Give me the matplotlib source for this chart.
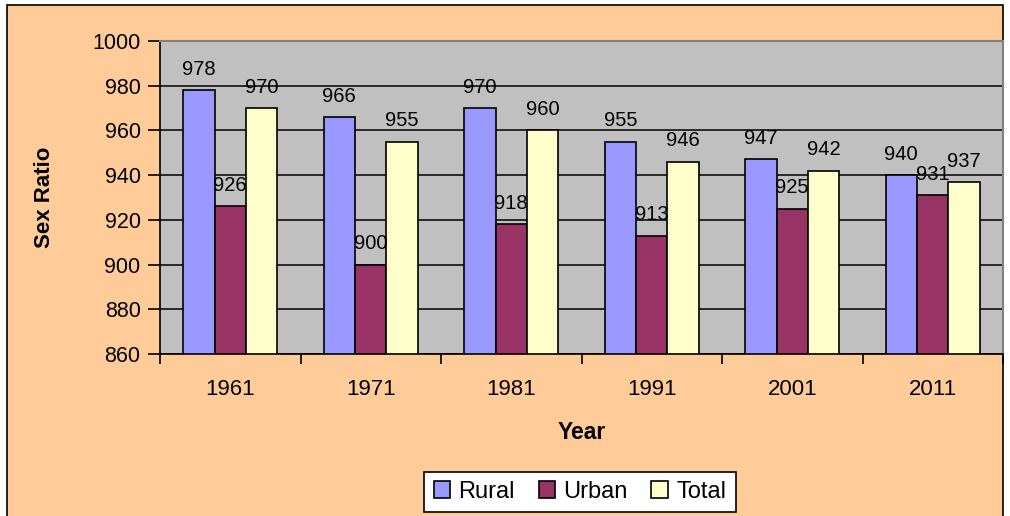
import numpy as np
import matplotlib.pyplot as plt
from matplotlib.patches import Rectangle

plt.rcParams['font.family'] = ['Liberation Sans', 'DejaVu Sans']

years = ['1961', '1971', '1981', '1991', '2001', '2011']
rural = [978, 966, 970, 955, 947, 940]
urban = [926, 900, 918, 913, 925, 931]
total = [970, 955, 960, 946, 942, 937]

series = [('Rural', rural, '#9999FF'), ('Urban', urban, '#993366'), ('Total', total, '#FFFFCC')]

fig = plt.figure(figsize=(10.1, 5.16), dpi=100)
fig.patch.set_facecolor('white')
# outer chart frame, behind everything
frame = Rectangle((7 / 1010, -0.01), 996 / 1010, 1 - 5 / 516 + 0.01,
                  transform=fig.transFigure, facecolor='#FFCC99',
                  edgecolor='black', linewidth=1.2, zorder=-10)
fig.patches.append(frame)

ax = fig.add_axes([160 / 1010, 1 - 354 / 516, (1003 - 160) / 1010, (354 - 41) / 516])
ax.set_zorder(1)
ax.set_facecolor('#C0C0C0')

x = np.arange(len(years))
w = 0.224
for i, (name, vals, col) in enumerate(series):
    pos = x + (i - 1) * w
    ax.bar(pos, np.array(vals) - 860, bottom=860, width=w, color=col,
           edgecolor='black', linewidth=1.2, label=name, zorder=3)
    for px, v in zip(pos, vals):
        ax.annotate(str(v), (px, v), xytext=(0, 15), textcoords='offset points',
                    ha='center', va='center', fontsize=14.5, zorder=4)

ax.set_ylim(860, 1000)
ax.set_yticks(range(860, 1001, 20))
ax.set_xlim(-0.5, len(years) - 0.5)
ax.set_xticks(x)
ax.set_xticklabels(years)
ax.set_xticks(np.arange(-0.5, len(years)), minor=True)
ax.tick_params(axis='x', which='major', length=0, pad=18, labelsize=16)
ax.tick_params(axis='x', which='minor', length=7, width=1.2, direction='out')
ax.tick_params(axis='y', length=9, width=1.2, labelsize=15.5, pad=5)
ax.grid(axis='y', color='black', linewidth=1.1, zorder=1)
ax.set_axisbelow(True)

for s in ['top', 'right']:
    ax.spines[s].set_color('#808080')
    ax.spines[s].set_linewidth(1.5)
for s in ['left', 'bottom']:
    ax.spines[s].set_color('black')
    ax.spines[s].set_linewidth(1.2)

ax.set_ylabel('Sex Ratio', fontsize=16, fontweight='bold', labelpad=27)
ax.set_xlabel('Year', fontsize=16.5, fontweight='bold', labelpad=15)

leg = fig.legend(loc='center', bbox_to_anchor=(580 / 1010, 1 - 492 / 516), ncol=3,
                 fontsize=17, frameon=True, fancybox=False, edgecolor='black',
                 facecolor='white', framealpha=1,
                 handlelength=0.7, handleheight=0.7, handletextpad=0.35,
                 columnspacing=1.0, borderpad=0.4)
leg.get_frame().set_linewidth(1.2)
leg.set_zorder(5)

fig.savefig('out.png', dpi=100, facecolor=fig.get_facecolor())
